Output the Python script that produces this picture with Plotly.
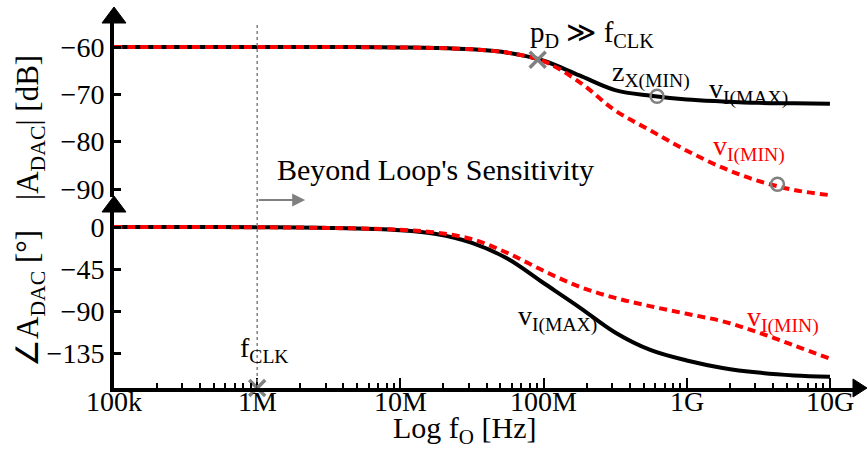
import math
import plotly.graph_objects as go

# ---------------- data ----------------
freq_hz = [1e5, 3.16e5, 1e6, 3.16e6, 1e7, 1.78e7, 3.16e7, 5.62e7, 1e8,
           1.78e8, 3.16e8, 5.62e8, 1e9, 1.78e9, 3.16e9, 5.62e9, 1e10]
mag_vi_max = [-60, -60, -60, -60, -60.1, -60.2, -60.5, -61.2, -62.9,
              -66.0, -69.1, -70.3, -71.1, -71.5, -71.8, -71.9, -72.0]
mag_vi_min = [-60, -60, -60, -60, -60.1, -60.2, -60.5, -61.2, -63.0,
              -67.4, -73.4, -77.7, -81.9, -85.5, -88.3, -90.2, -91.3]
ph_vi_max = [0, 0, -0.3, -1, -3.5, -7.5, -17, -34, -60,
             -86, -113, -132, -143, -151, -156, -159, -160.5]
ph_vi_min = [0, 0, -0.3, -1, -3, -6, -13, -28, -47,
             -64, -76, -85, -93, -101, -113, -127, -141]

pole_pd = ([9.1e7], [-62.7])
zero_points = ([6.2e8, 4.3e9], [-70.4, -89.0])
f_clk = 1e6

x_tickvals = [1e5, 1e6, 1e7, 1e8, 1e9, 1e10]
x_ticktext = ["100k", "1M", "10M", "100M", "1G", "10G"]
mag_ticks = [-60, -70, -80, -90]
ph_ticks = [0, -45, -90, -135]

# ---------------- geometry ----------------
W, H = 867, 451
L, R, T, B = 114, 12, 23, 63
PW, PH = W - L - R, H - T - B
XR = [5, 10.175]
PH_RANGE = [-172.5, 16.07]
MAG_RANGE = [-91.69, -54.93]

FONT = "Liberation Serif, Times New Roman, serif"
GRAY = "#808080"
RED = "#ff0000"

def px(x):
    return (x - L) / PW

def py(y):
    return (H - B - y) / PH

fig = go.Figure()

# magnitude
fig.add_trace(go.Scatter(x=freq_hz, y=mag_vi_max, mode="lines", xaxis="x", yaxis="y2",
                         line=dict(color="black", width=4, shape="spline", smoothing=1.0)))
fig.add_trace(go.Scatter(x=freq_hz, y=mag_vi_min, mode="lines", xaxis="x", yaxis="y2",
                         line=dict(color=RED, width=4, dash="8px,5px", shape="spline", smoothing=1.0)))
# phase
fig.add_trace(go.Scatter(x=freq_hz, y=ph_vi_max, mode="lines", xaxis="x", yaxis="y",
                         line=dict(color="black", width=4, shape="spline", smoothing=1.0)))
fig.add_trace(go.Scatter(x=freq_hz, y=ph_vi_min, mode="lines", xaxis="x", yaxis="y",
                         line=dict(color=RED, width=4, dash="8px,5px", shape="spline", smoothing=1.0)))

# markers
fig.add_trace(go.Scatter(x=pole_pd[0], y=pole_pd[1], mode="markers", xaxis="x", yaxis="y2",
                         marker=dict(symbol="x-thin", size=16, line=dict(color=GRAY, width=3.5)),
                         cliponaxis=False))
fig.add_trace(go.Scatter(x=zero_points[0], y=zero_points[1], mode="markers", xaxis="x", yaxis="y2",
                         marker=dict(symbol="circle-open", size=13, color=GRAY, line=dict(color=GRAY, width=2.5)),
                         cliponaxis=False))
fig.add_trace(go.Scatter(x=[f_clk], y=[PH_RANGE[0]], mode="markers", xaxis="x", yaxis="y",
                         marker=dict(symbol="x-thin", size=16, line=dict(color=GRAY, width=3.5)),
                         cliponaxis=False))

shapes = []
# vertical dotted line at fCLK
shapes.append(dict(type="line", xref="x", yref="paper", x0=f_clk, x1=f_clk,
                   y0=0, y1=py(22), line=dict(color=GRAY, width=1.5, dash="dot")))
# arrowheads of axes
def tri(pts):
    d = "M " + " L ".join(f"{px(a):.5f},{py(b):.5f}" for a, b in pts) + " Z"
    return dict(type="path", xref="paper", yref="paper", path=d,
                fillcolor="black", line=dict(color="black", width=1))
shapes.append(tri([(114, 7), (102, 23), (126, 23)]))
shapes.append(tri([(114, 196), (102, 212), (126, 212)]))
shapes.append(tri([(867, 388), (853, 379), (853, 397)]))

annotations = []
def txt(text, x, y, yref="y2", color="black", size=28, xanchor="center", xref="x"):
    annotations.append(dict(text=text, x=x, y=y, xref=xref, yref=yref, showarrow=False,
                            font=dict(family=FONT, size=size, color=color),
                            xanchor=xanchor, yanchor="middle"))

txt("p<sub>D</sub> ≫ f<sub>CLK</sub>", 8.338, -57.3, size=29)
txt("z<sub>X(MIN)</sub>", 8.75, -65.6)
txt("v<sub>I(MAX)</sub>", 9.434, -69.2)
txt("v<sub>I(MIN)</sub>", 9.434, -81.4, color=RED)
txt("z<sub>X(MAX)</sub>", 9.623, -94.5)
txt("Beyond Loop's Sensitivity", 6.124, -85.8, xanchor="left", size=30)
txt("f<sub>CLK</sub>", 6.054, -131.0, yref="y")
txt("v<sub>I(MAX)</sub>", 8.094, -98.0, yref="y")
txt("v<sub>I(MIN)</sub>", 9.672, -99.0, yref="y", color=RED)

# x tick labels (placed just under the axis line, as in the reference)
for v, t in zip(x_tickvals, x_ticktext):
    txt(t, math.log10(v), py(401), yref="paper", size=28)

# axis titles
txt("|A<sub>DAC</sub>| [dB]", px(30), py(128), xref="paper", yref="paper", size=31)
annotations[-1]["textangle"] = -90
txt("∠A<sub>DAC</sub> [°]", px(30), py(299), xref="paper", yref="paper", size=31)
annotations[-1]["textangle"] = -90
txt("Log f<sub>O</sub> [Hz]", px(464), py(430), xref="paper", yref="paper", size=30)

# gray arrow "beyond loop's sensitivity"
annotations.append(dict(x=6.335, y=py(200), xref="x", yref="paper", ax=-48, ay=0,
                        axref="pixel", ayref="pixel", showarrow=True, arrowhead=2,
                        arrowsize=1.3, arrowwidth=2, arrowcolor=GRAY, text=""))

minor_vals = []
for d in range(5, 10):
    for m in range(2, 10):
        minor_vals.append(m * 10 ** d)

fig.update_layout(
    width=W, height=H,
    margin=dict(l=L, r=R, t=T, b=B),
    paper_bgcolor="white", plot_bgcolor="white",
    showlegend=False,
    font=dict(family=FONT, size=28, color="black"),
    shapes=shapes,
    annotations=annotations,
    xaxis=dict(type="log", range=XR, showgrid=False, zeroline=False,
               showline=True, linecolor="black", linewidth=4, anchor="y",
               ticks="inside", ticklen=10, tickwidth=2, tickcolor="black",
               tickvals=x_tickvals, ticktext=x_ticktext, showticklabels=False,
               minor=dict(ticks="inside", ticklen=5, tickwidth=2, tickcolor="black",
                          tickvals=minor_vals, showgrid=False)),
    yaxis=dict(domain=[0, py(212)], range=PH_RANGE, showgrid=False, zeroline=False,
               showline=True, linecolor="black", linewidth=4, anchor="x",
               ticks="inside", ticklen=7, tickwidth=3, tickcolor="black",
               tickvals=ph_ticks, ticktext=["0", "−45", "−90", "−135"],
               tickfont=dict(family=FONT, size=28)),
    yaxis2=dict(domain=[py(197), 1], range=MAG_RANGE, showgrid=False, zeroline=False,
                showline=True, linecolor="black", linewidth=4, anchor="x",
                ticks="inside", ticklen=7, tickwidth=3, tickcolor="black",
                tickvals=mag_ticks, ticktext=["−60", "−70", "−80", "−90"],
                tickfont=dict(family=FONT, size=28)),
)

fig.write_html("out.html")
